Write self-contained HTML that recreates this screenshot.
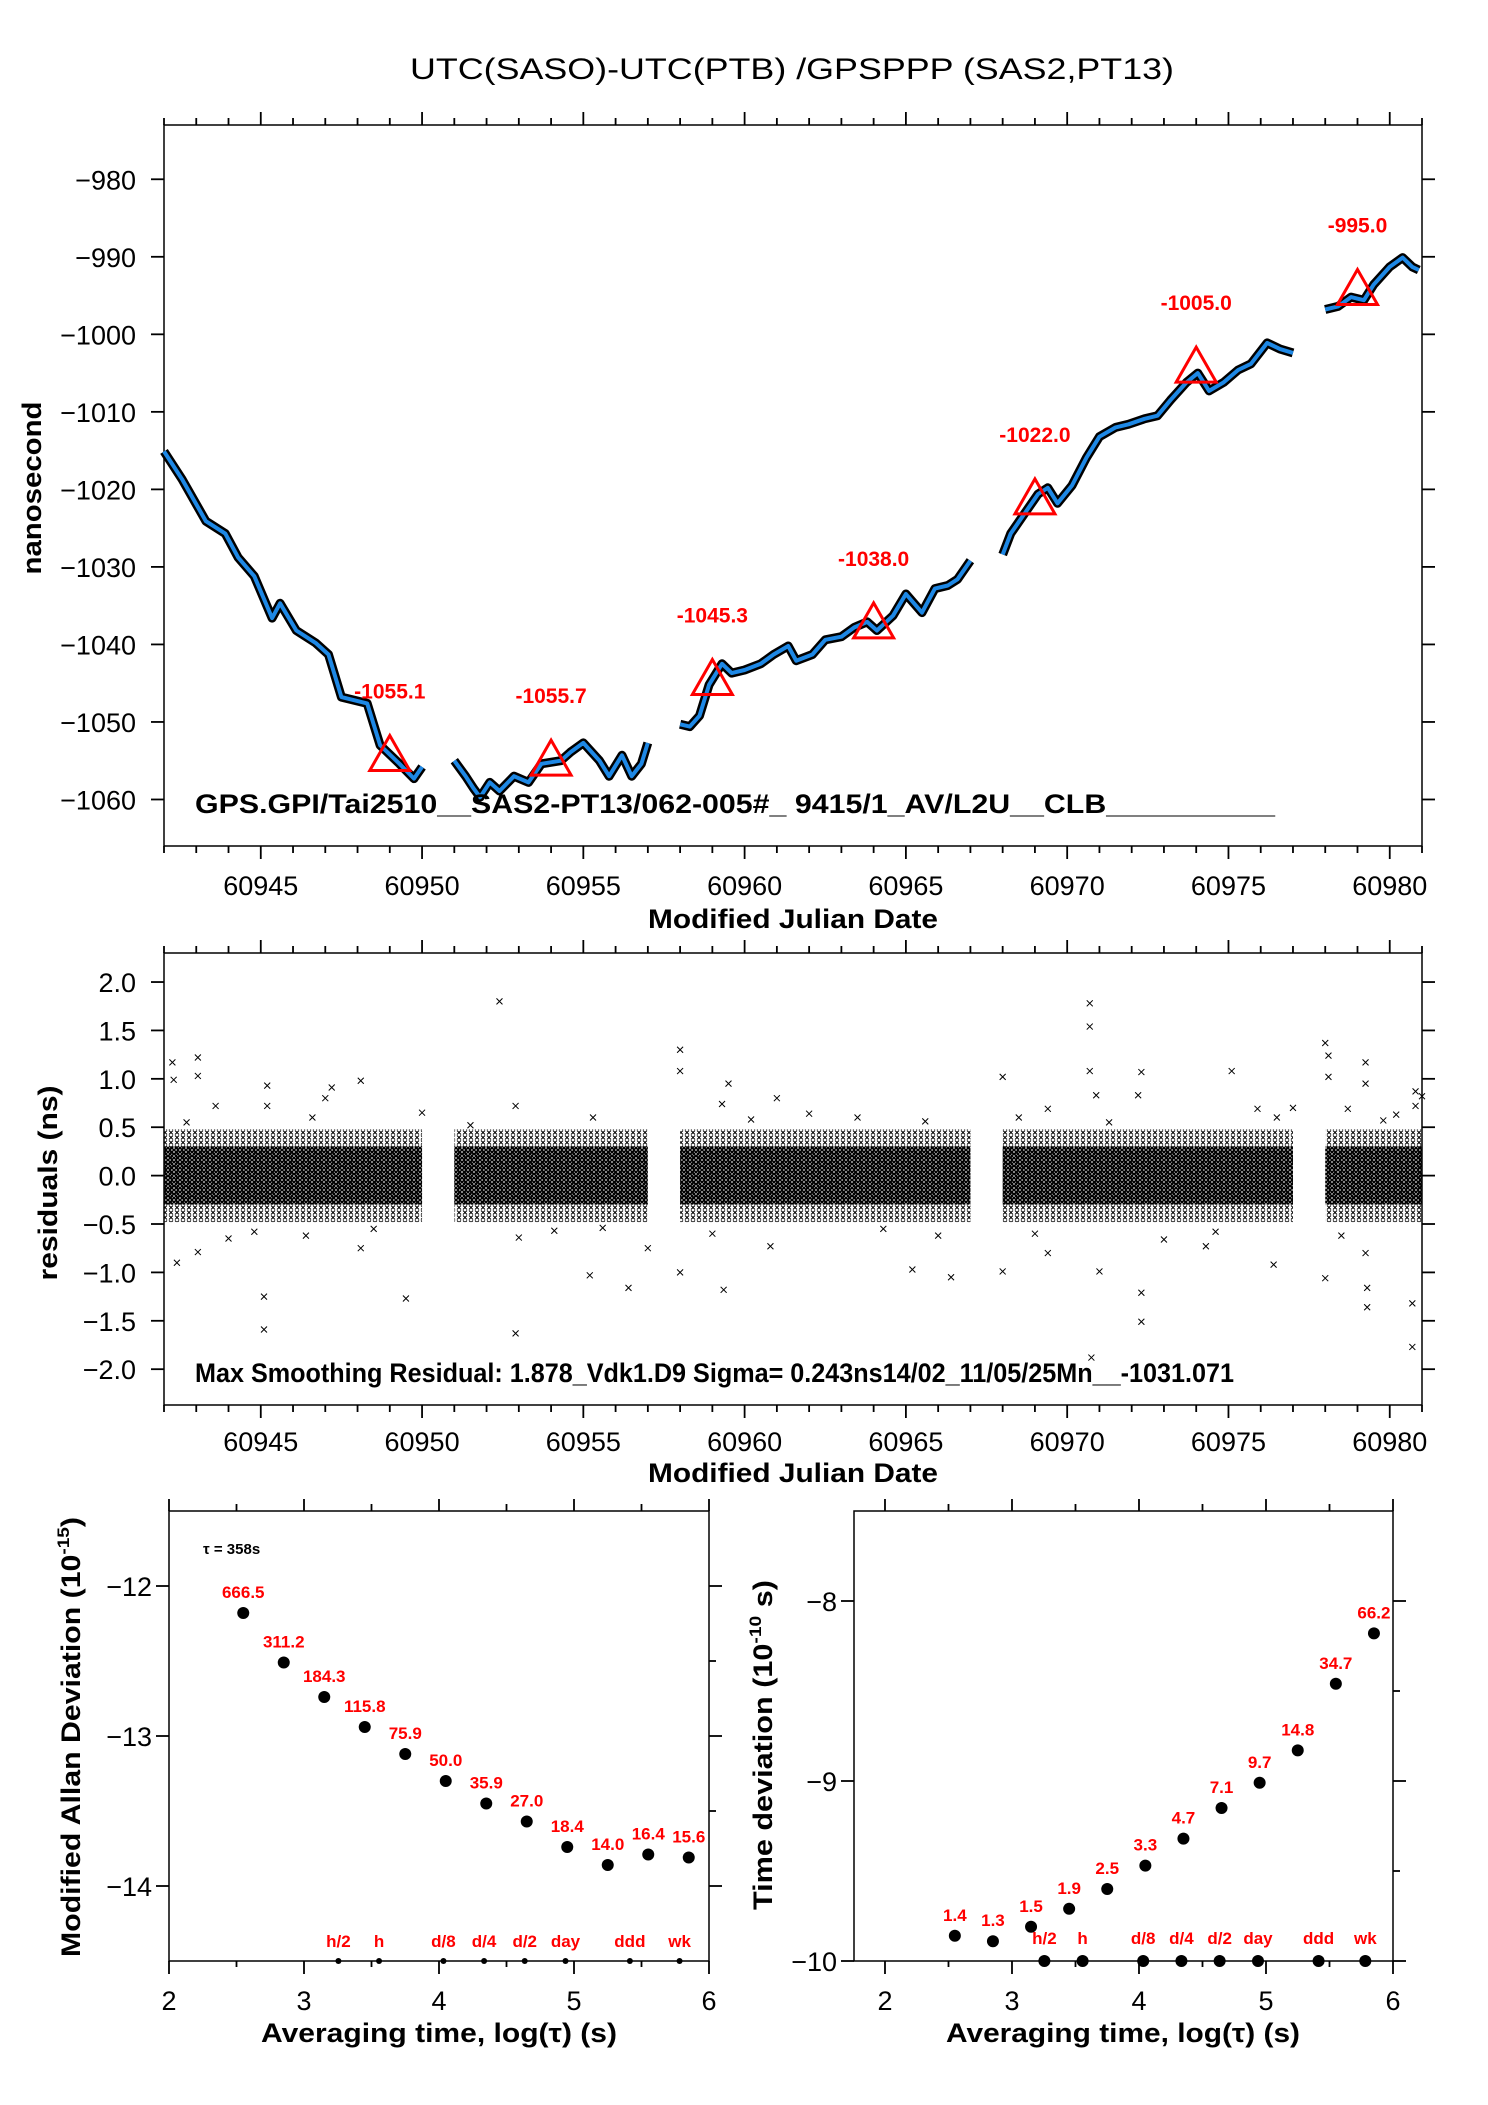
<!DOCTYPE html>
<html><head><meta charset="utf-8">
<style>
html,body{margin:0;padding:0;background:#fff;}
svg{display:block;font-family:"Liberation Sans",Arial,sans-serif;}
.tk{font-size:27px;fill:#000;}
.ttl{font-size:27px;font-weight:bold;fill:#000;}
.red{fill:#ff0000;font-weight:bold;}
</style></head>
<body>
<svg id="chart" width="1488" height="2105" viewBox="0 0 1488 2105" xmlns="http://www.w3.org/2000/svg">
<defs>
<pattern id="xdense" width="4" height="4" patternUnits="userSpaceOnUse">
<path d="M0 0L4 4M4 0L0 4" stroke="#000" stroke-width="1.4"/>
</pattern>
<pattern id="xsparse" width="6" height="5" patternUnits="userSpaceOnUse">
<path d="M1 0.5L5 4.5M5 0.5L1 4.5" stroke="#000" stroke-width="1"/>
</pattern>
</defs>
<rect width="1488" height="2105" fill="#fff"/>
<text x="792" y="79" text-anchor="middle" font-size="30" textLength="764" lengthAdjust="spacingAndGlyphs">UTC(SASO)-UTC(PTB)  /GPSPPP  (SAS2,PT13)</text>

<g id="pA"></g>
<g id="pB"></g>
<g id="pC"></g>
<g id="pD"></g>

<text x="793" y="928" text-anchor="middle" class="ttl" textLength="290" lengthAdjust="spacingAndGlyphs">Modified Julian Date</text>
<text transform="translate(41,488) rotate(-90)" text-anchor="middle" class="ttl" font-size="26" textLength="173" lengthAdjust="spacingAndGlyphs">nanosecond</text>
<text x="195" y="813" class="ttl" font-size="27" textLength="1080" lengthAdjust="spacingAndGlyphs">GPS.GPI/Tai2510__SAS2-PT13/062-005#_  9415/1_AV/L2U__CLB__________</text>

<text x="793" y="1482" text-anchor="middle" class="ttl" textLength="290" lengthAdjust="spacingAndGlyphs">Modified Julian Date</text>
<text transform="translate(57,1183) rotate(-90)" text-anchor="middle" class="ttl" font-size="26" textLength="195" lengthAdjust="spacingAndGlyphs">residuals (ns)</text>
<text x="195" y="1382" class="ttl" font-size="22" textLength="1039" lengthAdjust="spacingAndGlyphs">Max Smoothing Residual: 1.878_Vdk1.D9  Sigma= 0.243ns14/02_11/05/25Mn__-1031.071</text>

<text x="439" y="2042" text-anchor="middle" class="ttl" textLength="356" lengthAdjust="spacingAndGlyphs">Averaging time, log(τ) (s)</text>
<text transform="translate(80,1737) rotate(-90)" text-anchor="middle" class="ttl" font-size="26" textLength="440" lengthAdjust="spacingAndGlyphs">Modified Allan Deviation (10<tspan font-size="17" dy="-11">-15</tspan><tspan dy="11">)</tspan></text>
<text x="203" y="1554" font-size="15" font-weight="bold">τ = 358s</text>

<text x="1123" y="2042" text-anchor="middle" class="ttl" textLength="354" lengthAdjust="spacingAndGlyphs">Averaging time, log(τ) (s)</text>
<text transform="translate(772,1745) rotate(-90)" text-anchor="middle" class="ttl" font-size="26" textLength="330" lengthAdjust="spacingAndGlyphs">Time deviation (10<tspan font-size="17" dy="-11">-10</tspan><tspan dy="11"> s)</tspan></text>

<script>
// ---------- data ----------
const seg1MJD = [60942.0,60942.56,60943.3,60943.9,60944.3,60944.8,60945.35,60945.6,60946.1,60946.7,60947.1,60947.5,60948.3,60948.7,60949.3,60949.75,60950.0];
const seg1NS  = [-1015.1,-1018.7,-1024.1,-1025.7,-1028.8,-1031.2,-1036.6,-1034.7,-1038.2,-1039.8,-1041.3,-1046.8,-1047.6,-1053.0,-1055.4,-1057.3,-1055.8];
const seg2MJD = [60951.0,60951.35,60951.6,60951.8,60952.1,60952.4,60952.85,60953.3,60953.7,60954.3,60954.6,60955.0,60955.5,60955.8,60956.2,60956.5,60956.8,60957.0];
const seg2NS  = [-1055.0,-1057.0,-1058.6,-1059.7,-1057.8,-1058.9,-1057.0,-1057.8,-1055.4,-1055.0,-1053.9,-1052.7,-1055.0,-1057.0,-1054.3,-1057.0,-1055.4,-1052.7];
const seg3MJD = [60958.0,60958.3,60958.6,60958.9,60959.3,60959.6,60960.0,60960.5,60960.9,60961.35,60961.6,60962.1,60962.5,60963.0,60963.4,60963.8,60964.1,60964.6,60965.0,60965.5,60965.9,60966.3,60966.6,60967.0];
const seg3NS  = [-1050.3,-1050.6,-1049.2,-1045.2,-1042.5,-1043.7,-1043.3,-1042.5,-1041.3,-1040.2,-1042.1,-1041.3,-1039.4,-1039.0,-1037.8,-1037.1,-1038.2,-1036.3,-1033.5,-1035.9,-1032.8,-1032.4,-1031.6,-1029.2];
const seg4MJD = [60968.0,60968.25,60968.7,60969.1,60969.4,60969.7,60970.15,60970.6,60971.0,60971.5,60971.9,60972.4,60972.8,60973.2,60973.7,60974.05,60974.4,60974.85,60975.3,60975.7,60976.2,60976.6,60977.0];
const seg4NS  = [-1028.4,-1025.7,-1023.0,-1020.6,-1019.8,-1021.8,-1019.5,-1015.9,-1013.2,-1012.0,-1011.6,-1010.9,-1010.5,-1008.5,-1006.2,-1005.0,-1007.3,-1006.2,-1004.6,-1003.8,-1001.1,-1001.9,-1002.4];
const seg5MJD = [60978.0,60978.4,60978.8,60979.2,60979.5,60980.0,60980.4,60980.7,60980.9];
const seg5NS  = [-996.8,-996.4,-995.2,-995.6,-993.6,-991.3,-990.1,-991.3,-991.7];
const markMJD = [60949,60954,60959,60964,60969,60974,60979];
const markNS  = [-1055.1,-1055.7,-1045.3,-1038.0,-1022.0,-1005.0,-995.0];
const markLbl = ["-1055.1","-1055.7","-1045.3","-1038.0","-1022.0","-1005.0","-995.0"];
const topYTicks = [-980,-990,-1000,-1010,-1020,-1030,-1040,-1050,-1060];
const mjdTicks = [60945,60950,60955,60960,60965,60970,60975,60980];

const segStart = [60942.0,60951.0,60958.0,60968.0,60978.0];
const segEnd   = [60950.0,60957.0,60967.0,60977.0,60981.0];
const bandCore = 0.3;
const bandOuter = 0.48;
const outMJD = [60942.26,60942.3,60942.4,60943.05,60943.05,60943.05,60945.1,60945.1,60945.2,60947.2,60948.1,60948.1,60949.5,60952.4,60952.9,60952.9,60955.2,60956.4,60958.0,60958.0,60958.0,60959.35,60959.5,60961.0,60965.2,60966.4,60968.0,60968.0,60970.7,60970.7,60970.7,60971.0,60972.3,60972.3,60972.3,60970.75,60975.1,60976.4,60978.0,60978.1,60978.1,60978.0,60979.25,60979.25,60979.3,60979.3,60980.7,60980.7,60980.8,60980.8,60981.0,60947.0,60945.2,60959.3,60946.4,60955.6,60960.8,60969.4,60969.4,60970.9,60972.2,60974.3,60975.9,60978.7,60979.25,60943.6,60944.0,60950.0,60953.0,60957.0,60962.0,60963.5,60966.0,60968.5,60973.0,60977.0,60980.2,60942.7,60944.8,60946.6,60948.5,60951.5,60954.1,60955.3,60959.0,60960.2,60964.3,60965.6,60969.0,60971.3,60974.6,60976.5,60978.5,60979.8];
const outVal = [1.17,0.99,-0.9,1.22,1.03,-0.79,-1.59,-1.25,0.93,0.91,0.98,-0.75,-1.27,1.8,-1.63,0.72,-1.03,-1.16,1.3,1.08,-1.0,-1.18,0.95,0.8,-0.97,-1.05,1.02,-0.99,1.78,1.54,1.08,-0.99,1.07,-1.21,-1.51,-1.88,1.08,-0.92,1.37,1.24,1.02,-1.06,1.17,0.95,-1.36,-1.16,-1.77,-1.32,0.72,0.87,0.82,0.8,0.72,0.74,-0.62,-0.54,-0.73,0.69,-0.8,0.83,0.83,-0.73,0.69,0.69,-0.8,0.72,-0.65,0.65,-0.64,-0.75,0.64,0.6,-0.62,0.6,-0.66,0.7,0.63,0.55,-0.58,0.6,-0.55,0.52,-0.57,0.6,-0.6,0.58,-0.55,0.56,-0.6,0.55,-0.58,0.6,-0.62,0.57];
const resYTicks = [2.0,1.5,1.0,0.5,0.0,-0.5,-1.0,-1.5,-2.0];
const resYLbls = ["2.0","1.5","1.0","0.5","0.0","−0.5","−1.0","−1.5","−2.0"];

const logTau = [2.55,2.85,3.15,3.45,3.75,4.05,4.35,4.65,4.95,5.25,5.55,5.85];
const adevVal = [-12.18,-12.51,-12.74,-12.94,-13.12,-13.30,-13.45,-13.57,-13.74,-13.86,-13.79,-13.81];
const adevLbl = ["666.5","311.2","184.3","115.8","75.9","50.0","35.9","27.0","18.4","14.0","16.4","15.6"];
const tdevVal = [-9.86,-9.89,-9.81,-9.71,-9.60,-9.47,-9.32,-9.15,-9.01,-8.83,-8.46,-8.18];
const tdevLbl = ["1.4","1.3","1.5","1.9","2.5","3.3","4.7","7.1","9.7","14.8","34.7","66.2"];
const refLog = [3.255,3.556,4.033,4.334,4.635,4.937,5.414,5.782];
const refLbl = ["h/2","h","d/8","d/4","d/2","day","ddd","wk"];

// ---------- helpers ----------
const NS = "http://www.w3.org/2000/svg";
function mk(tag, attrs, parent){
  const e = document.createElementNS(NS, tag);
  for (const k in attrs) e.setAttribute(k, attrs[k]);
  parent.appendChild(e);
  return e;
}
function scale(d0,d1,r0,r1){ return v => r0 + (v-d0)/(d1-d0)*(r1-r0); }
function frame(g, x0,y0,x1,y1){
  const r = mk('rect',{x:x0,y:y0,width:x1-x0,height:y1-y0,fill:'none',stroke:'#000','stroke-width':1.5},g);
  
  
}
function tick(g,x1,y1,x2,y2,name){
  const l = mk('line',{x1:x1,y1:y1,x2:x2,y2:y2,stroke:'#000','stroke-width':1.8},g);
  
  
}
function label(g,x,y,txt,cls,anchor,name){
  const t = mk('text',{x:x,y:y,'text-anchor':anchor,class:cls},g);
  t.textContent = txt;
  
  
  return t;
}
const AX0 = 164, AX1 = 1422;

// ---------- panel A ----------
(function(){
  const g = document.getElementById('pA');
  const X = scale(60942,60981,AX0,AX1), Y = scale(-973,-1066,125,846);
  frame(g,AX0,125,AX1,846);
  for (let d=60942; d<=60981; d++){
    const major = d%5===0;
    tick(g,X(d),125,X(d),125-(major?13:7),'x-tick-top');
    tick(g,X(d),846,X(d),846+(major?13:7),'x-tick-bottom');
  }
  mjdTicks.forEach(d=>{ label(g,X(d),895,String(d),'tk','middle','x-tick-label'); });
  topYTicks.forEach(v=>{
    tick(g,AX0,Y(v),AX0-13,Y(v),'y-tick-left');
    tick(g,AX1,Y(v),AX1+13,Y(v),'y-tick-right');
    label(g,136,Y(v)+10,'−'+Math.abs(v),'tk','end','y-tick-label');
  });
  const segs = [[seg1MJD,seg1NS],[seg2MJD,seg2NS],[seg3MJD,seg3NS],[seg4MJD,seg4NS],[seg5MJD,seg5NS]];
  segs.forEach(s=>{
    const pts = s[0].map((m,i)=>X(m).toFixed(1)+','+Y(s[1][i]).toFixed(1)).join(' ');
    const b = mk('polyline',{points:pts,fill:'none',stroke:'#000','stroke-width':9,'stroke-linejoin':'round'},g);
    
    
    const l = mk('polyline',{points:pts,fill:'none',stroke:'#1e88e5','stroke-width':4,'stroke-linejoin':'round'},g);
    
    
  });
  markMJD.forEach((m,i)=>{
    const cx = X(m), cy = Y(markNS[i]);
    const p = mk('polygon',{points:`${cx-20},${cy+9} ${cx+20},${cy+9} ${cx},${cy-26}`,fill:'none',stroke:'#ff0000','stroke-width':3},g);
    
    
    const t = label(g,cx,cy-63,markLbl[i],'red','middle','daily-marker-label');
    t.setAttribute('font-size','21');
  });
})();

// ---------- panel B ----------
(function(){
  const g = document.getElementById('pB');
  const X = scale(60942,60981,AX0,AX1), Y = scale(2.30,-2.37,953,1405);
  segStart.forEach((s,i)=>{
    const o = mk('rect',{x:X(s),y:Y(bandOuter),width:X(segEnd[i])-X(s),height:Y(-bandOuter)-Y(bandOuter),fill:'url(#xsparse)'},g);
    
    
    const c = mk('rect',{x:X(s),y:Y(bandCore),width:X(segEnd[i])-X(s),height:Y(-bandCore)-Y(bandCore),fill:'url(#xdense)'},g);
    
    
  });
  outMJD.forEach((m,i)=>{
    const x = X(m), y = Y(outVal[i]);
    const p = mk('path',{d:`M${x-3},${y-3}L${x+3},${y+3}M${x+3},${y-3}L${x-3},${y+3}`,stroke:'#000','stroke-width':1},g);
    
    
  });
  frame(g,AX0,953,AX1,1405);
  for (let d=60942; d<=60981; d++){
    const major = d%5===0;
    tick(g,X(d),953,X(d),953-(major?13:7),'x-tick-top');
    tick(g,X(d),1405,X(d),1405+(major?13:7),'x-tick-bottom');
  }
  mjdTicks.forEach(d=>{ label(g,X(d),1451,String(d),'tk','middle','x-tick-label'); });
  resYTicks.forEach((v,i)=>{
    tick(g,AX0,Y(v),AX0-13,Y(v),'y-tick-left');
    tick(g,AX1,Y(v),AX1+13,Y(v),'y-tick-right');
    label(g,136,Y(v)+10,resYLbls[i],'tk','end','y-tick-label');
  });
})();

// ---------- stability panels ----------
function stab(id,x0,x1,xd0,xd1,yd0,yd1,yMaj,yMin,vals,lbls,bigRef,refLblY){
  const g = document.getElementById(id);
  const y0=1511,y1=1961;
  const X = scale(xd0,xd1,x0,x1), Y = scale(yd1,yd0,y0,y1);
  frame(g,x0,y0,x1,y1);
  for (let v=2; v<=6.001; v+=0.5){
    const major = Math.abs(v-Math.round(v))<1e-6;
    tick(g,X(v),y0,X(v),y0-(major?12:7),'x-tick-top');
    if (major){
      tick(g,X(v),y1,X(v),y1+13,'x-tick-bottom');
      label(g,X(v),2010,String(v),'tk','middle','x-tick-label');
    } else {
      tick(g,X(v),y1,X(v),y1+6,'x-tick-bottom');
    }
  }
  yMaj.forEach(v=>{
    tick(g,x0,Y(v),x0-13,Y(v),'y-tick-left');
    tick(g,x1,Y(v),x1+13,Y(v),'y-tick-right');
    label(g,x0-17,Y(v)+10,'−'+Math.abs(v),'tk','end','y-tick-label');
  });
  yMin.forEach(v=>{
    tick(g,x1,Y(v),x1+7,Y(v),'y-minor-tick-right');
  });
  logTau.forEach((lt,i)=>{
    const c = mk('circle',{cx:X(lt),cy:Y(vals[i]),r:6,fill:'#000'},g);
    
    
    const t = label(g,X(lt),Y(vals[i])-15,lbls[i],'red','middle','stability-value-label');
    t.setAttribute('font-size','17');
  });
  refLog.forEach((lt,i)=>{
    const c = mk('circle',{cx:X(lt),cy:y1,r:bigRef?6:3,fill:'#000'},g);
    
    
    const t = label(g,X(lt),refLblY,refLbl[i],'red','middle','reference-interval-label');
    t.setAttribute('font-size','17');
  });
}
stab('pC',169,709,2,6,-14.5,-11.5,[-12,-13,-14],[-12.5,-13.5],adevVal,adevLbl,false,1947);
stab('pD',854,1393,1.756,6,-10,-7.5,[-8,-9,-10],[-8.5,-9.5],tdevVal,tdevLbl,true,1944);
</script>
</svg>
</body></html>
